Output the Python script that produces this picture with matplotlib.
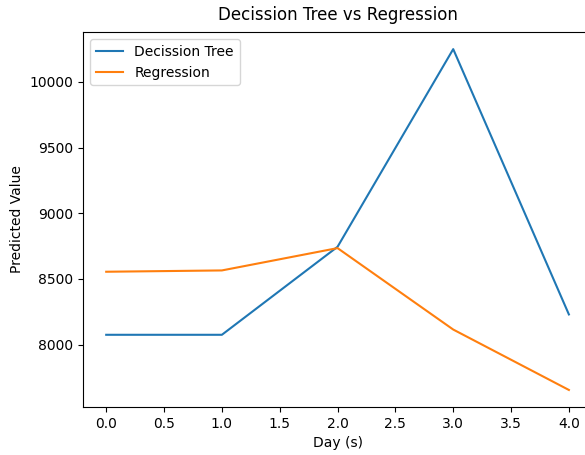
import matplotlib
matplotlib.use("Agg")
import matplotlib.pyplot as plt

# Predicted values per day for both models
DAYS = [0, 1, 2, 3, 4]
TREE_PRED = [8075, 8075, 8745, 10250, 8230]
REGRESSION_PRED = [8555, 8565, 8735, 8115, 7655]

fig = plt.figure(figsize=(5.85, 4.55), dpi=100)
# the axes run slightly past the right edge of the figure
ax = fig.add_axes([0.142, 0.1055, 0.87, 0.824])

ax.plot(DAYS, TREE_PRED, label="Decission Tree")
ax.plot(DAYS, REGRESSION_PRED, label="Regression")

ax.set_title("Decission Tree vs Regression", pad=9)
ax.set_xlabel("Day (s)")
ax.set_ylabel("Predicted Value")
ax.legend(loc="upper left")

fig.savefig("out.png", dpi=100)
